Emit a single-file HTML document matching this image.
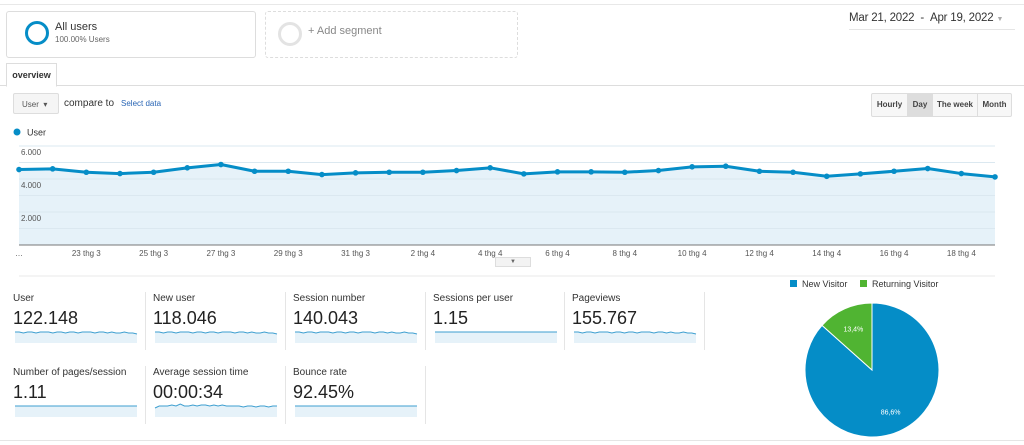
<!DOCTYPE html>
<html><head><meta charset="utf-8"><style>
body{margin:0;width:1024px;height:445px;background:#fff;font-family:"Liberation Sans",sans-serif;color:#333;position:relative;overflow:hidden}
.abs{position:absolute}
.metric{position:absolute;width:128px;height:62px}
.metric .t{font-size:10px;color:#333}
.metric .v{font-size:18px;color:#222;margin-top:4px}
.vsep{position:absolute;width:1px;background:#e5e5e5}
.btn{position:absolute;top:0;height:22px;line-height:22px;font-size:8px;font-weight:bold;color:#444;border-left:1px solid #ddd;text-align:center;box-sizing:border-box}
</style></head><body>
<div class="abs" style="left:0;top:4px;width:1024px;height:1px;background:#e8e8e8"></div>
<div class="abs" style="left:6px;top:11px;width:248px;height:45px;border:1px solid #ddd;border-radius:3px">
 <div class="abs" style="left:18px;top:9px;width:18px;height:18px;border:3px solid #058dc7;border-radius:50%"></div>
 <div class="abs" style="left:48px;top:9px;font-size:11px;color:#333">All users</div>
 <div class="abs" style="left:48px;top:23px;font-size:8px;color:#666">100.00% Users</div>
</div>
<div class="abs" style="left:265px;top:11px;width:251px;height:45px;border:1px dashed #ddd;border-radius:3px">
 <div class="abs" style="left:12px;top:10px;width:18px;height:18px;border:3px solid #e3e3e3;border-radius:50%"></div>
 <div class="abs" style="left:42px;top:13px;font-size:11px;color:#888">+ Add segment</div>
</div>
<div class="abs" style="left:849px;top:12px;width:166px;height:17px;border-bottom:1px solid #e5e5e5;font-size:11.5px;color:#333;white-space:nowrap;letter-spacing:-0.2px">Mar 21, 2022 &nbsp;- &nbsp;Apr 19, 2022 <span style="color:#aaa;font-size:7px">▼</span></div>
<div class="abs" style="left:0;top:85px;width:1024px;height:1px;background:#ddd"></div>
<div class="abs" style="left:6px;top:63px;width:49px;height:22px;border:1px solid #ddd;border-bottom:1px solid #fff;background:#fff;font-size:9px;font-weight:bold;line-height:22px;text-align:center">overview</div>
<div class="abs" style="left:13px;top:93px;width:46px;height:21px;border:1px solid #ddd;border-radius:2px;background:#f5f5f5;font-size:8px;line-height:21px;color:#555;padding-left:8px;box-sizing:border-box">User &nbsp;▾</div>
<div class="abs" style="left:64px;top:98px;font-size:10px;color:#333">compare to</div>
<div class="abs" style="left:121px;top:99px;font-size:8px;color:#2a66b5">Select data</div>
<div class="abs" style="left:871px;top:93px;width:139px;height:22px;border:1px solid #ddd;border-radius:2px;background:#f7f7f7;white-space:nowrap">
 <span class="btn" style="left:0;width:35px;border-left:none">Hourly</span><span class="btn" style="left:35px;width:25px;background:#ddd">Day</span><span class="btn" style="left:60px;width:45px">The week</span><span class="btn" style="left:105px;width:34px">Month</span>
</div>
<svg class="abs" style="left:0;top:0" width="1024" height="445" id="main">
 <circle cx="17" cy="132" r="3.5" fill="#058dc7"/>
 <text x="27" y="135.5" font-size="9" fill="#333">User</text>
</svg>
<div class="abs" style="left:495px;top:257px;width:34px;height:8px;border:1px solid #ddd;background:#f3f3f3;font-size:6px;text-align:center;line-height:8px;color:#666">▼</div>

<div class="metric" style="left:13px;top:293px"><div class="t">User</div><div class="v">122.148</div></div>
<div class="metric" style="left:153px;top:293px"><div class="t">New user</div><div class="v">118.046</div></div>
<div class="metric" style="left:293px;top:293px"><div class="t">Session number</div><div class="v">140.043</div></div>
<div class="metric" style="left:433px;top:293px"><div class="t">Sessions per user</div><div class="v">1.15</div></div>
<div class="metric" style="left:572px;top:293px"><div class="t">Pageviews</div><div class="v">155.767</div></div>
<div class="metric" style="left:13px;top:367px"><div class="t">Number of pages/session</div><div class="v">1.11</div></div>
<div class="metric" style="left:153px;top:367px"><div class="t">Average session time</div><div class="v">00:00:34</div></div>
<div class="metric" style="left:293px;top:367px"><div class="t">Bounce rate</div><div class="v">92.45%</div></div>
<div class="vsep" style="left:145px;top:292px;height:58px"></div>
<div class="vsep" style="left:285px;top:292px;height:58px"></div>
<div class="vsep" style="left:425px;top:292px;height:58px"></div>
<div class="vsep" style="left:564px;top:292px;height:58px"></div>
<div class="vsep" style="left:704px;top:292px;height:58px"></div>
<div class="vsep" style="left:145px;top:366px;height:58px"></div>
<div class="vsep" style="left:285px;top:366px;height:58px"></div>
<div class="vsep" style="left:425px;top:366px;height:58px"></div>
<div class="abs" style="left:0;top:440px;width:1024px;height:1px;background:#e5e5e5"></div>

<script>
const categories = ["…","22 thg 3","23 thg 3","24 thg 3","25 thg 3","26 thg 3","27 thg 3","28 thg 3","29 thg 3","30 thg 3","31 thg 3","1 thg 4","2 thg 4","3 thg 4","4 thg 4","5 thg 4","6 thg 4","7 thg 4","8 thg 4","9 thg 4","10 thg 4","11 thg 4","12 thg 4","13 thg 4","14 thg 4","15 thg 4","16 thg 4","17 thg 4","18 thg 4","19 thg 4"];
const userValues = [4573,4615,4409,4329,4409,4677,4878,4470,4470,4268,4372,4409,4409,4512,4677,4311,4433,4433,4409,4512,4738,4774,4470,4409,4165,4311,4470,4634,4329,4128];
const yTicks = [2000,4000,6000];
const yTickLabels = ["2.000","4.000","6.000"];
const pieLabels = ["New Visitor","Returning Visitor"];
const pieValues = [86.6,13.4];
const sparkUser = [5,5,4,5,5,4,5,5,5,4,5,5,4,5,5,4,5,5,5,4,5,5,4,5,4,4,5,4,4,3];
const sparkTime = [3,5,5,5,6,5,7,5,5,6,5,6,6,5,6,5,6,5,5,5,5,4,5,5,4,5,5,4,5,5];

const NS="http://www.w3.org/2000/svg";
const svg=document.getElementById('main');
function mk(tag,attrs,parent){const e=document.createElementNS(NS,tag);for(const k in attrs)e.setAttribute(k,attrs[k]);(parent||svg).appendChild(e);return e;}
const X0=19,X1=995,YB=245,YT=146,YMAX=6000;
const xs=i=>X0+i*(X1-X0)/(categories.length-1);
const ys=v=>YB-v/YMAX*(YB-YT);

const bg=mk('rect',{x:X0,y:YT,width:X1-X0,height:YB-YT,fill:'#fff'});


for(let v=1000;v<=6000;v+=1000){
 const g=mk('line',{x1:X0,x2:X1,y1:ys(v),y2:ys(v),stroke:'#eee','stroke-width':1});
 
 
}
let d=`M${xs(0)},${YB}`;userValues.forEach((v,i)=>d+=` L${xs(i)},${ys(v)}`);d+=` L${xs(userValues.length-1)},${YB}Z`;
const area=mk('path',{d,fill:'#e6f2f9',stroke:'none'});


for(let v=1000;v<=6000;v+=1000){
 const g=mk('line',{x1:X0,x2:X1,y1:ys(v),y2:ys(v),stroke:'#dbe8f0','stroke-width':1});
 
 
}
yTicks.forEach((v,i)=>{
 const t=mk('text',{x:21,y:ys(v)+9,'font-size':8,fill:'#555'});t.textContent=yTickLabels[i];
 
 
});
const ax=mk('line',{x1:X0,x2:X1,y1:YB,y2:YB,stroke:'#777','stroke-width':1});


const bl=mk('line',{x1:X0,x2:X1,y1:276,y2:276,stroke:'#e8e8e8','stroke-width':1});


categories.forEach((c,i)=>{
 if(i===0||(i%2===0)){
  const t=mk('text',{x:xs(i),y:256,'font-size':8,fill:'#555','text-anchor':'middle'});t.textContent=c;
  
  
 }
});
const ln=mk('polyline',{points:userValues.map((v,i)=>xs(i)+','+ys(v)).join(' '),fill:'none',stroke:'#058dc7','stroke-width':3,'stroke-linejoin':'round'});


userValues.forEach((v,i)=>{
 const c=mk('circle',{cx:xs(i),cy:ys(v),r:2.8,fill:'#058dc7'});
 
 
});

function spark(x,y,vals,name){
 const w=122,h=14,sx=i=>x+i*w/(vals.length-1),sy=v=>y+h-v*1.0-6;
 let p=`M${x},${y+h}`;vals.forEach((v,i)=>p+=` L${sx(i)},${sy(v)}`);p+=` L${x+w},${y+h}Z`;
 const a=mk('path',{d:p,fill:'#e6f2f9'});
 
 
 const l=mk('polyline',{points:vals.map((v,i)=>sx(i)+','+sy(v)).join(' '),fill:'none',stroke:'#3e9fd0','stroke-width':1});
 
 
}
const flat=sparkUser.map(()=>5);
spark(15,329,sparkUser,'sparkline-user');
spark(155,329,sparkUser,'sparkline-new-user');
spark(295,329,sparkUser,'sparkline-sessions');
spark(435,329,flat,'sparkline-sessions-per-user');
spark(574,329,sparkUser,'sparkline-pageviews');
spark(15,403,flat,'sparkline-pages-per-session');
spark(155,403,sparkTime,'sparkline-avg-session-time');
spark(295,403,flat,'sparkline-bounce-rate');

const colors=['#058dc7','#50b432'];
const CX=872,CY=370,R=67;
const total=pieValues.reduce((a,b)=>a+b,0);
let ang=0;
pieValues.forEach((v,i)=>{
 const a0=ang,a1=ang+v/total*2*Math.PI;ang=a1;
 const p=a=>[CX+R*Math.sin(a),CY-R*Math.cos(a)];
 const [x0,y0]=p(a0),[x1,y1]=p(a1);
 const s=mk('path',{d:`M${CX},${CY} L${x0},${y0} A${R},${R} 0 ${a1-a0>Math.PI?1:0} 1 ${x1},${y1}Z`,fill:colors[i],stroke:'#fff','stroke-width':1});
 
 
 const m=(a0+a1)/2,lr=R*0.68;
 const t=mk('text',{x:CX+lr*Math.sin(m),y:CY-lr*Math.cos(m)+3,'font-size':7,fill:'#fff','text-anchor':'middle'});
 t.textContent=v.toFixed(1).replace('.',',')+'%';
 
 
});
let lx=790;
pieLabels.forEach((l,i)=>{
 const r=mk('rect',{x:lx,y:280,width:7,height:7,fill:colors[i]});
 
 
 const t=mk('text',{x:lx+12,y:287,'font-size':9,fill:'#333'});t.textContent=l;
 
 
 lx+=70;
});
</script>
</body></html>
